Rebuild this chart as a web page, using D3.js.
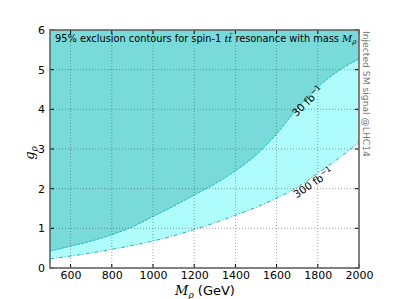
<!DOCTYPE html>
<html><head><meta charset="utf-8">
<script src="https://cdn.jsdelivr.net/npm/d3@7"></script>
<style>body{margin:0;background:#fff}text{font-family:"DejaVu Sans",sans-serif}</style>
</head><body><svg id="c" width="399" height="299"></svg>
<script>
const masses = [500,600,700,800,900,1000,1100,1200,1300,1400,1500,1600,1700,1800,1900,2000];
const g30 = [0.43,0.55,0.68,0.84,1.04,1.30,1.56,1.84,2.12,2.45,2.85,3.38,4.02,4.56,4.97,5.27];
const g300 = [0.23,0.30,0.38,0.47,0.57,0.68,0.81,0.97,1.14,1.33,1.53,1.76,2.03,2.39,2.76,3.16];
const xTicks = [600,800,1000,1200,1400,1600,1800,2000];
const yTicks = [0,1,2,3,4,5,6];

const svg = d3.select("#c");
const L=50,R=359,T=30,B=268;
const x = d3.scaleLinear().domain([500,2000]).range([L,R]);
const y = d3.scaleLinear().domain([0,6]).range([B,T]);
const pts30 = masses.map((m,i)=>[m,g30[i]]);
const pts300 = masses.map((m,i)=>[m,g300[i]]);

svg.append("defs").append("clipPath").attr("id","clip").append("rect").attr("x",L).attr("y",T).attr("width",R-L).attr("height",B-T);
const g = svg.append("g").attr("clip-path","url(#clip)");
const curve = d3.curveMonotoneX;
g.append("path").datum(pts300).attr("fill","#aefcfc")
  .attr("d", d3.area().curve(curve).x(d=>x(d[0])).y0(T).y1(d=>y(d[1])));
g.append("path").datum(pts30).attr("fill","#79dbd9")
  .attr("d", d3.area().curve(curve).x(d=>x(d[0])).y0(T).y1(d=>y(d[1])));

// grid
const grid = svg.append("g");
xTicks.forEach(t=>grid.append("line").attr("x1",x(t)).attr("x2",x(t)).attr("y1",T).attr("y2",B)
  .attr("stroke","#444").attr("stroke-width",0.7).attr("stroke-dasharray","1,2").attr("opacity",0.7));
yTicks.forEach(t=>grid.append("line").attr("x1",L).attr("x2",R).attr("y1",y(t)).attr("y2",y(t))
  .attr("stroke","#444").attr("stroke-width",0.7).attr("stroke-dasharray","1,2").attr("opacity",0.7));

g.append("path").datum(pts30).attr("fill","none").attr("stroke","#1fb8b8").attr("stroke-width",1)
  .attr("stroke-dasharray","3,1").attr("d", d3.line().curve(curve).x(d=>x(d[0])).y(d=>y(d[1])));
g.append("path").datum(pts300).attr("fill","none").attr("stroke","#1fb8b8").attr("stroke-width",1)
  .attr("stroke-dasharray","4,2,1,2").attr("d", d3.line().curve(curve).x(d=>x(d[0])).y(d=>y(d[1])));

// axes
const xa = svg.append("g").attr("transform",`translate(0,${B})`)
  .call(d3.axisBottom(x).tickValues(xTicks).tickSize(0).tickPadding(3).tickFormat(d3.format("d")));
const ya = svg.append("g").attr("transform",`translate(${L},0)`)
  .call(d3.axisLeft(y).tickValues(yTicks).tickSize(0).tickPadding(5).tickFormat(d3.format("d")));
[xa,ya].forEach(a=>{a.select(".domain").remove();a.selectAll("text").attr("font-size",11).attr("fill","#000").attr("font-family","DejaVu Sans");});
xTicks.forEach(t=>{svg.append("line").attr("x1",x(t)).attr("x2",x(t)).attr("y1",B).attr("y2",B-4).attr("stroke","#000");
  svg.append("line").attr("x1",x(t)).attr("x2",x(t)).attr("y1",T).attr("y2",T+4).attr("stroke","#000");});
yTicks.forEach(t=>{svg.append("line").attr("x1",L).attr("x2",L+4).attr("y1",y(t)).attr("y2",y(t)).attr("stroke","#000");
  svg.append("line").attr("x1",R).attr("x2",R-4).attr("y1",y(t)).attr("y2",y(t)).attr("stroke","#000");});

svg.append("rect").attr("x",L).attr("y",T).attr("width",R-L).attr("height",B-T)
  .attr("fill","none").attr("stroke","#666").attr("stroke-width",1.6);

// title
const tt = svg.append("text").attr("x",55).attr("y",42).attr("font-size",9.8).attr("fill","#000");
tt.append("tspan").text("95% exclusion contours for spin-1 ");
tt.append("tspan").attr("font-family","DejaVu Serif").attr("font-style","italic").text("tt\u0304");
tt.append("tspan").text(" resonance with mass ");
tt.append("tspan").attr("font-family","DejaVu Serif").attr("font-style","italic").text("M");
tt.append("tspan").attr("font-family","DejaVu Serif").attr("font-style","italic").attr("font-size",7).attr("dy",2).text("ρ");

// contour labels
const l30 = svg.append("text").attr("transform",`translate(310,104) rotate(-44)`).attr("text-anchor","middle").attr("font-size",10.5).attr("fill","#000");
l30.append("tspan").text("30 fb");
l30.append("tspan").attr("font-size",7.5).attr("dy",-4).text("−1");
const l300 = svg.append("text").attr("transform",`translate(315,186) rotate(-34)`).attr("text-anchor","middle").attr("font-size",10.5).attr("fill","#000");
l300.append("tspan").text("300 fb");
l300.append("tspan").attr("font-size",7.5).attr("dy",-4).text("−1");

// right side label
svg.append("text").attr("transform",`translate(363,31) rotate(90)`).attr("font-size",9.2).attr("fill","#777")
  .text("Injected SM signal @LHC14");

// x label
const xl = svg.append("text").attr("x",205).attr("y",295).attr("text-anchor","middle").attr("font-size",13).attr("fill","#000");
xl.append("tspan").attr("font-family","DejaVu Serif").attr("font-style","italic").text("M");
xl.append("tspan").attr("font-family","DejaVu Serif").attr("font-style","italic").attr("font-size",9).attr("dy",3).text("ρ");
xl.append("tspan").attr("dy",-3).text(" (GeV)");
// y label
const yl = svg.append("text").attr("transform",`translate(34,153) rotate(-90)`).attr("text-anchor","middle").attr("font-size",13).attr("fill","#000");
yl.append("tspan").attr("font-family","DejaVu Serif").attr("font-style","italic").text("g");
yl.append("tspan").attr("font-family","DejaVu Serif").attr("font-style","italic").attr("font-size",9).attr("dy",3).text("ρ");
</script></body></html>
